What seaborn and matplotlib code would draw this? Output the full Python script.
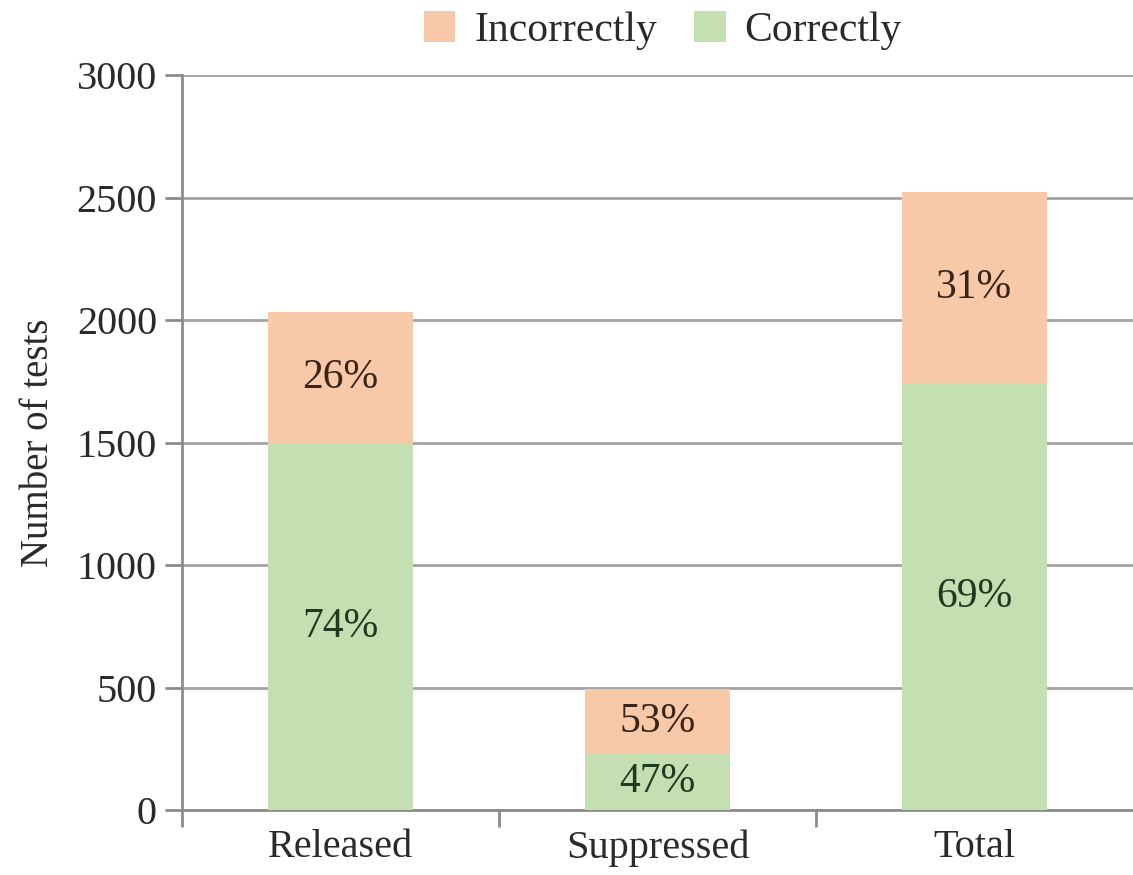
import matplotlib
matplotlib.use("Agg")
import matplotlib.pyplot as plt
from matplotlib.patches import Patch
import numpy as np
import pandas as pd
import seaborn as sns

categories = ["Released", "Suppressed", "Total"]
correct = [1500, 230, 1742]
incorrect = [533, 262, 782]
y_ticks = [0, 500, 1000, 1500, 2000, 2500, 3000]

PEACH = "#F8C9A8"
GREEN = "#C4DFB1"
GRID = "#A3A3A3"
TEXT = "#2a2a2a"

sns.set_theme(style="white")
plt.rcParams["font.family"] = ["Liberation Serif", "DejaVu Serif"]

df = pd.DataFrame({"category": categories, "correct": correct, "incorrect": incorrect})
df["total"] = df["correct"] + df["incorrect"]

fig = plt.figure(figsize=(11.33, 8.75), dpi=100)
ax = fig.add_axes([0.1606, 0.0743, 0.8394, 0.8397])

# stacked bars: full height in peach, correct portion in green on top
sns.barplot(data=df, x="category", y="total", color=PEACH, width=0.46,
            saturation=1, linewidth=0, ax=ax, zorder=3)
sns.barplot(data=df, x="category", y="correct", color=GREEN, width=0.46,
            saturation=1, linewidth=0, ax=ax, zorder=4)

for i, row in df.iterrows():
    c, w, t = row["correct"], row["incorrect"], row["total"]
    ax.text(i, c / 2, f"{round(100 * c / t)}%", ha="center", va="center",
            fontsize=30, color="#1f3a1f", zorder=5)
    ax.text(i, c + w / 2, f"{round(100 * w / t)}%", ha="center", va="center",
            fontsize=30, color="#3a2418", zorder=5)

ax.set_ylim(0, 3000)
ax.set_xlim(-0.5, 2.5)
ax.set_yticks(y_ticks)
ax.yaxis.grid(True, color=GRID, linewidth=2, zorder=0)
ax.set_axisbelow(True)

for s in ["top", "right"]:
    ax.spines[s].set_visible(False)
for s in ["left", "bottom"]:
    ax.spines[s].set_color("#8c8c8c")
    ax.spines[s].set_linewidth(2)

ax.tick_params(axis="y", length=12, width=2, color="#8c8c8c",
               labelsize=29, labelcolor=TEXT, pad=6, left=True)
# x ticks sit between categories
ax.set_xticks([-0.5, 0.5, 1.5], minor=True)
ax.tick_params(axis="x", which="major", length=0, labelsize=29,
               labelcolor=TEXT, pad=14)
ax.tick_params(axis="x", which="minor", length=12, width=2, color="#8c8c8c",
               bottom=True)

ax.set_xlabel("")
ax.set_ylabel("Number of tests", fontsize=28, color=TEXT, labelpad=14)

handles = [Patch(facecolor=PEACH, edgecolor="none", label="Incorrectly"),
           Patch(facecolor=GREEN, edgecolor="none", label="Correctly")]
fig.legend(handles=handles, loc="center", bbox_to_anchor=(0.585, 0.965), ncol=2,
           frameon=False, fontsize=30, handlelength=0.75, handleheight=0.75,
           handletextpad=0.45, columnspacing=0.9, labelcolor=TEXT)

fig.savefig("out.png", dpi=100, facecolor="white")
